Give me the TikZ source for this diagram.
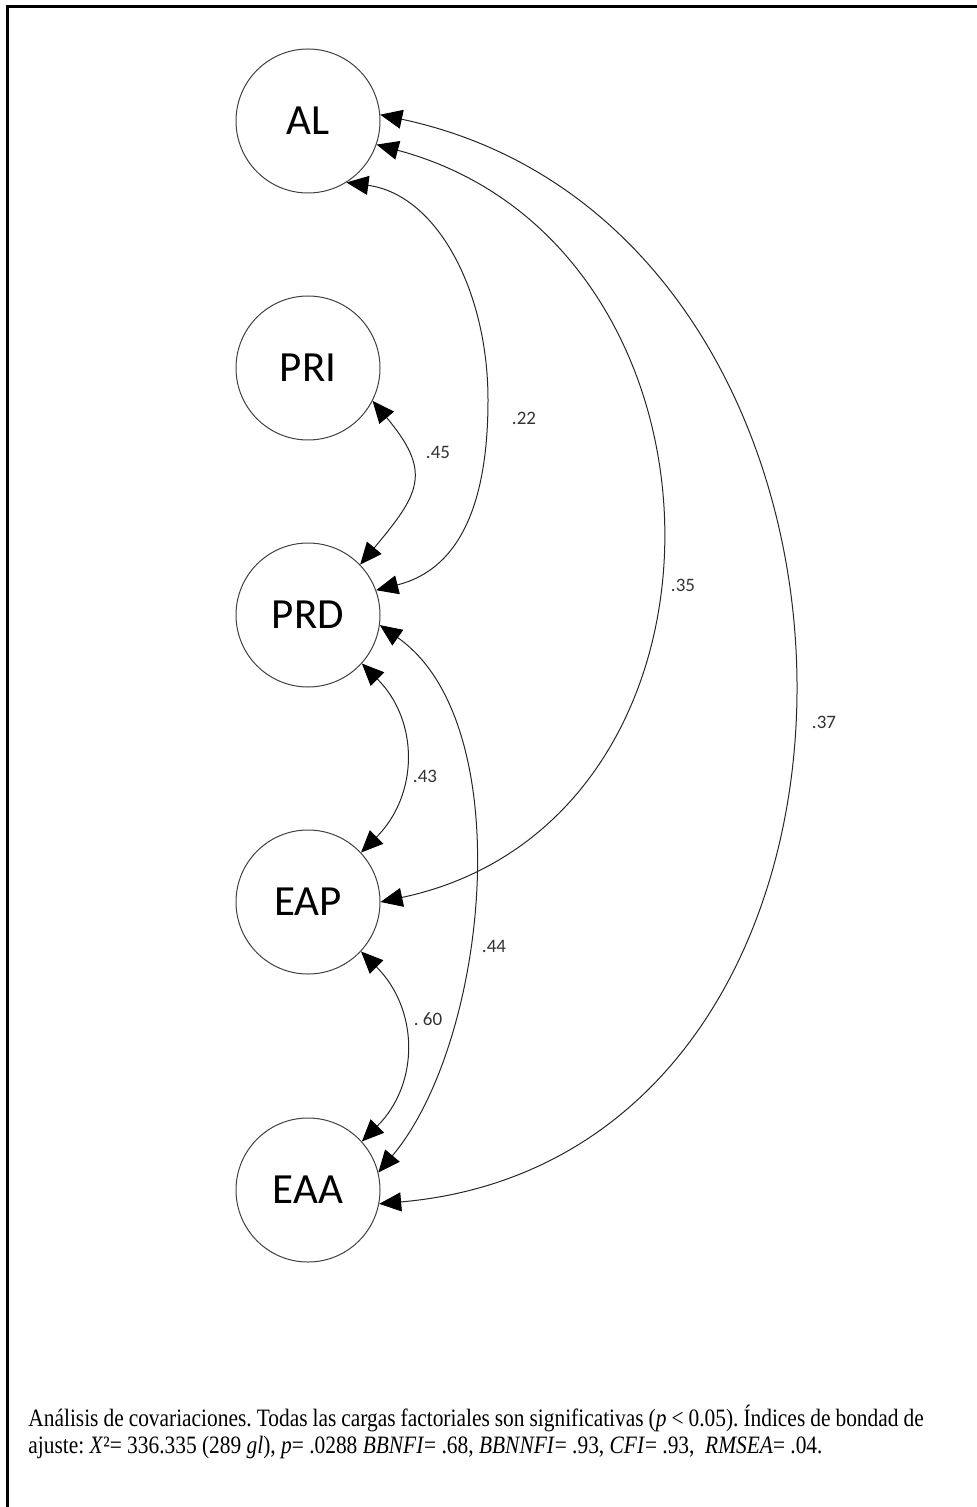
\documentclass[tikz,border=0pt]{standalone}
\usepackage{fontspec}
\setmainfont{Liberation Serif}
\newfontfamily\calib{Carlito}
\usetikzlibrary{arrows.meta}
\tikzset{
  latent/.style={circle, draw=black!75, line width=0.5pt, minimum size=72pt, inner sep=0pt,
    font=\calib\fontsize{21.5}{25}\selectfont},
  cov/.style={draw=black!85, line width=0.5pt,
    {Triangle[length=11pt,width=9.5pt,color=black]}-{Triangle[length=11pt,width=9.5pt,color=black]}},
  coef/.style={font=\calib\fontsize{9.5}{11}\selectfont, text=black!80, inner sep=0.5pt},
  frameline/.style={line width=1.2pt}
}
\begin{document}
\begin{tikzpicture}[x=0.5pt,y=0.5pt]
\useasboundingbox (0,0) rectangle (977,-1507);
% page frame (left and top rules)
\draw[frameline] (7.5,-1507) -- (7.5,-6.5) -- (977,-6.5);

% latent factors
\node[latent] (AL)  at (308,-121)  {AL};
\node[latent] (PRI) at (308,-368)  {PRI};
\node[latent] (PRD) at (308,-615)  {PRD};
\node[latent] (EAP) at (308,-902)  {EAP};
\node[latent] (EAA) at (308,-1190) {EAA};

% turning point of the AL--PRD covariance
\coordinate (bendALPRD) at (488,-400);

% covariances between factors
\draw[cov] (AL.-58) .. controls +(90,-12) and +(0,110) .. (bendALPRD)
                    .. controls +(0,-110) and +(80,20) .. (PRD.20);
\draw[cov] (PRI.-27) to[out=-50, in=50, looseness=1.45] (PRD.44);
\draw[cov] (PRD.-42) to[out=-45, in=45, looseness=1.1]  (EAP.43);
\draw[cov] (EAP.-43) to[out=-45, in=45, looseness=1.1]  (EAA.42);
\draw[cov] (PRD.-8)  to[out=-35, in=50, looseness=0.8]  (EAA.14);
\draw[cov] (AL.-19)  to[out=-15, in=12, looseness=1.3]  (EAP.0);
\draw[cov] (AL.5)    to[out=-12, in=5,  looseness=1.31] (EAA.-11);

% coefficients
\node[coef] (c22) at (524,-418)  {.22};
\node[coef] (c45) at (438,-452)  {.45};
\node[coef] (c35) at (683,-585)  {.35};
\node[coef] (c37) at (824,-722)  {.37};
\node[coef] (c43) at (425,-776)  {.43};
\node[coef] (c44) at (494,-946)  {.44};
\node[coef] (c60) at (428,-1019) {.\ 60};

% note under the figure
\node[anchor=north west, inner sep=0pt] (note) at (28,-1405) {%
  \scalebox{0.856}[1]{\parbox{523pt}{\frenchspacing\fontsize{12.5}{13.5}\selectfont
  Análisis de covariaciones. Todas las cargas factoriales son significativas (\textit{p} < 0.05). Índices de bondad de\linebreak
  ajuste: \textit{X}²= 336.335 (289 \textit{gl}), \textit{p}= .0288 \textit{BBNFI}= .68, \textit{BBNNFI}= .93, \textit{CFI}= .93,\ \ \textit{RMSEA}= .04.}}};
\end{tikzpicture}
\end{document}
